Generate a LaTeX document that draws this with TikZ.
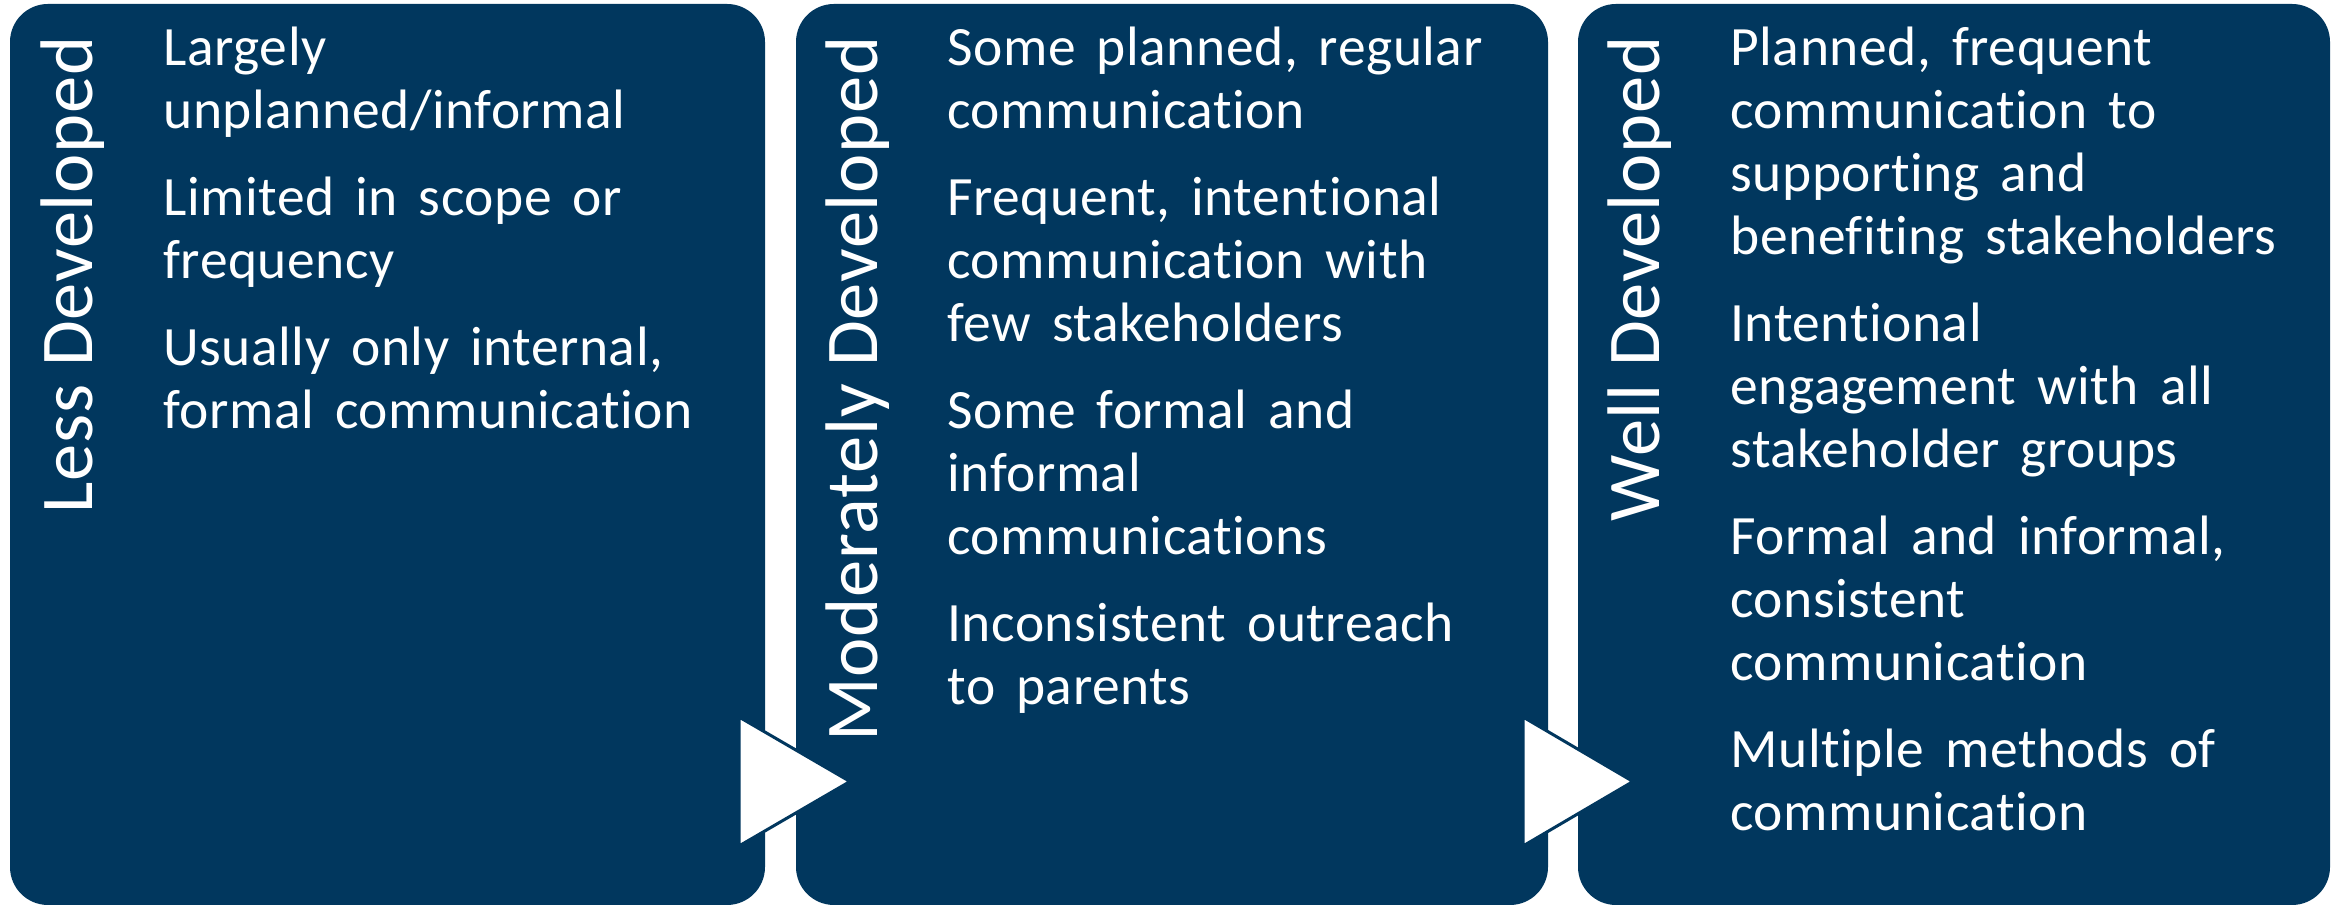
\documentclass[tikz,border=0pt]{standalone}
\usepackage{fontspec}
\setmainfont{Carlito}[Ligatures=NoCommon, LetterSpace=1.0, WordSpace=1.6]
\newfontfamily\stagefont{Carlito}[Ligatures=NoCommon, LetterSpace=1.0]
\definecolor{navy}{RGB}{1,55,94}
\begin{document}
\begin{tikzpicture}[x=0.5pt,y=0.5pt,
  panel/.style={fill=navy, draw=none, rounded corners=19pt, inner sep=0pt, minimum height=450.5pt},
  chevron/.style={fill=white, draw=navy, line width=1.5pt, line join=miter},
  stagetitle/.style={rotate=90, anchor=base east, inner sep=0pt, text=white, font=\stagefont\fontsize{37.25pt}{44pt}\selectfont},
  itemtext/.style={anchor=north west, inner sep=0pt, text=white, align=left, font=\fontsize{27.75pt}{31.5pt}\selectfont}]
\useasboundingbox (0,0) rectangle (2344,908);
% panels
\node[panel, minimum width=377.5pt] (b1) at (387.5,453.5) {};
\node[panel, minimum width=376pt] (b2) at (1172,453.5) {};
\node[panel, minimum width=376pt] (b3) at (1954,453.5) {};
% chevrons
\filldraw[chevron] (739,191) -- (850,126.5) -- (739,62) -- cycle;
\filldraw[chevron] (1523,191) -- (1633,126.5) -- (1523,62) -- cycle;
% titles
\node[stagetitle] (t1) at (92,872) {Less Developed};
\node[stagetitle] (t2) at (877,872) {Moderately Developed};
\node[stagetitle] (t3) at (1659,872) {Well Developed};
% items
\node[itemtext] (i1) at (163,887) {\rule{0pt}{22pt}Largely\\
unplanned/informal\\[12pt]
Limited in scope or\\
frequency\\[12pt]
Usually only internal,\\
formal communication};
\node[itemtext] (i2) at (947,887) {\rule{0pt}{22pt}Some planned, regular\\
communication\\[12pt]
Frequent, intentional\\
communication with\\
few stakeholders\\[12pt]
Some formal and\\
informal\\
communications\\[12pt]
Inconsistent outreach\\
to parents};
\node[itemtext] (i3) at (1730,887) {\rule{0pt}{22pt}Planned, frequent\\
communication to\\
supporting and\\
benefiting stakeholders\\[12pt]
Intentional\\
engagement with all\\
stakeholder groups\\[12pt]
Formal and informal,\\
consistent\\
communication\\[12pt]
Multiple methods of\\
communication};
\end{tikzpicture}
\end{document}
